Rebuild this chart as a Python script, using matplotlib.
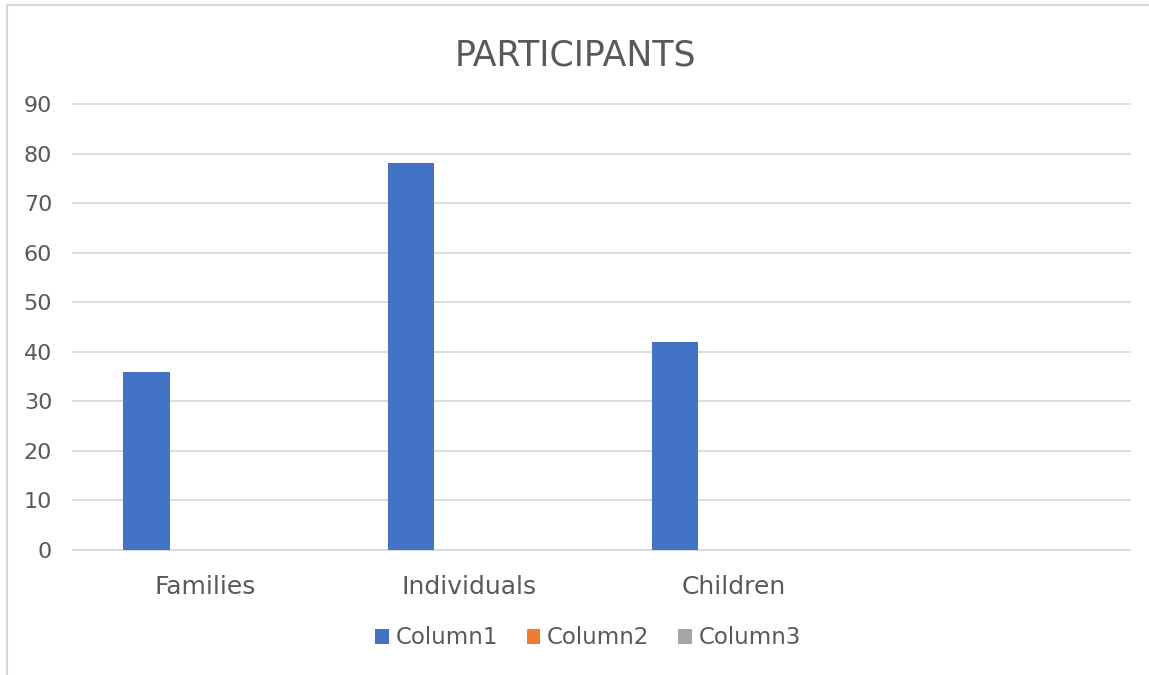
import numpy as np
import matplotlib
matplotlib.use("Agg")
import matplotlib.pyplot as plt
from matplotlib.patches import Patch
from matplotlib.lines import Line2D

# --- Data ---
categories = ["Families", "Individuals", "Children", ""]
series_names = ["Column1", "Column2", "Column3"]
column1 = [36, 78, 42, 0]
column2 = [0, 0, 0, 0]
column3 = [0, 0, 0, 0]
colors = ["#4472C4", "#ED7D31", "#A5A5A5"]
yticks = [0, 10, 20, 30, 40, 50, 60, 70, 80, 90]

text_color = "#595959"
grid_color = "#D9D9D9"

W, H = 1149, 675
fig = plt.figure(figsize=(W / 100, H / 100), dpi=100)
ax = fig.add_axes([73 / W, 1 - 550 / H, (1130 - 73) / W, (550 - 104) / H])

x = np.arange(len(categories))
width = 0.176
offset0 = -0.2214
for i, (vals, c) in enumerate(zip([column1, column2, column3], colors)):
    ax.bar(x + offset0 + i * width, vals, width, color=c, linewidth=0, zorder=3)

ax.set_xlim(-0.5, len(categories) - 0.5)
ax.set_ylim(0, 90)
ax.set_yticks(yticks)
ax.set_xticks(x)
ax.set_xticklabels(categories)
ax.tick_params(axis="y", length=0, pad=15, labelsize=16, labelcolor=text_color)
ax.tick_params(axis="x", length=0, pad=18, labelsize=18, labelcolor=text_color)
ax.grid(axis="y", color=grid_color, linewidth=1.3, zorder=0)
for gl in ax.yaxis.get_gridlines():
    gl.set_clip_on(False)
for s in ["top", "right", "left"]:
    ax.spines[s].set_visible(False)
ax.spines["bottom"].set_color(grid_color)
ax.spines["bottom"].set_linewidth(1.3)

fig.text(575 / W, 1 - 55 / H, "PARTICIPANTS", ha="center", va="center",
         fontsize=25, color=text_color)

handles = [Patch(facecolor=c, edgecolor="none") for c in colors]
fig.legend(handles, series_names, loc="center", bbox_to_anchor=(588 / W, 1 - 638 / H),
           ncol=3, frameon=False, fontsize=16.5, labelcolor=text_color,
           handlelength=0.6, handleheight=0.6, handletextpad=0.3, columnspacing=1.25)

# chart frame (only left and top edges visible in the reference)
fig.add_artist(Line2D([7 / W, 7 / W], [0, 1 - 5 / H], color="#D9D9D9", linewidth=1.5))
fig.add_artist(Line2D([7 / W, 1], [1 - 5 / H, 1 - 5 / H], color="#D9D9D9", linewidth=1.5))

fig.savefig("out.png", dpi=100)
